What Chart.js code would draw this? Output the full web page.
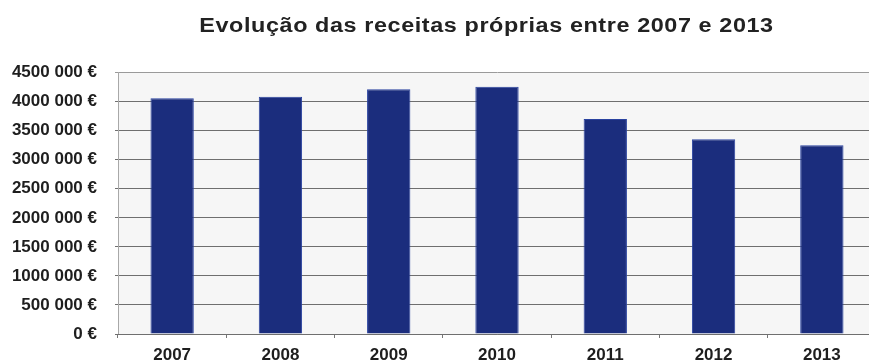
<!DOCTYPE html>
<html lang="pt">
<head>
<meta charset="utf-8">
<title>Receitas próprias 2007-2013</title>
<script src="https://cdn.jsdelivr.net/npm/chart.js@4.4.0/dist/chart.umd.min.js"></script>
<style>
  html, body { margin: 0; padding: 0; background: #fff; overflow: hidden; }
  #wrap { width: 876px; height: 363px; }
</style>
</head>
<body>
<div id="wrap"><canvas id="chart-rec"></canvas></div>
<script>
// receitas próprias por ano (euros)
var anos     = ['2007', '2008', '2009', '2010', '2011', '2012', '2013'];
var receitas = [4058000, 4086000, 4213000, 4258000, 3702000, 3353000, 3250000];
var yMax     = 4500000;
var yPasso   = 500000;
var titulo   = 'Evolução das receitas próprias entre 2007 e 2013';

var azul   = '#1b2d7d';
var texto  = '#1e1e1e';
var grelha = '#6f6f6f';

Chart.defaults.font.family = "'Liberation Sans', Arial, sans-serif";

// fundo cinzento claro da área do gráfico
var fundoArea = {
  id: 'fundoArea',
  beforeDraw: function(chart) {
    var a = chart.chartArea, c = chart.ctx;
    c.save();
    c.fillStyle = '#f6f6f6';
    c.fillRect(a.left, a.top, a.right - a.left, a.bottom - a.top);
    c.restore();
  }
};

// título largo (letra esticada na horizontal)
var tituloLargo = {
  id: 'tituloLargo',
  afterDraw: function(chart) {
    var c = chart.ctx, sx = 1.17;
    c.save();
    c.font = "bold 20px 'Liberation Sans', Arial, sans-serif";
    c.fillStyle = '#222';
    c.textAlign = 'center';
    c.textBaseline = 'alphabetic';
    if ('letterSpacing' in c) c.letterSpacing = '0.5px';
    c.translate(486.5, 31.5);
    c.scale(sx, 1);
    c.fillText(titulo, 0, 0);
    c.restore();
  }
};

function fmtEuro(v) {
  if (v === 0) return '0 €';
  return (v / 1000) + ' 000 €';
}

new Chart(document.getElementById('chart-rec'), {
  type: 'bar',
  data: {
    labels: anos,
    datasets: [{
      data: receitas,
      backgroundColor: azul,
      borderColor: '#2a43a0',
      borderWidth: 1,
      barPercentage: 0.4,
      categoryPercentage: 1
    }]
  },
  options: {
    responsive: true, maintainAspectRatio: false, animation: false,
    layout: { padding: { left: 0, right: 0, top: 72.6, bottom: 0 } },
    plugins: {
      legend: { display: false },
      tooltip: { enabled: false },
      title: { display: false }
    },
    scales: {
      y: {
        min: 0, max: yMax,
        ticks: {
          stepSize: yPasso,
          color: texto,
          font: { size: 17, weight: 'bold' },
          padding: 18,
          callback: function(v) { return fmtEuro(v); }
        },
        grid: {
          color: function(ctx) { return ctx.tick && ctx.tick.value === yMax ? '#9a9a9a' : grelha; },
          tickLength: 3
        },
        border: { color: '#a8a8a8' },
        afterFit: function(s) { s.width = 118; }
      },
      x: {
        ticks: {
          color: texto,
          font: { size: 17, weight: 'bold' },
          padding: 7
        },
        grid: { drawOnChartArea: false, tickLength: 4, color: '#777', offset: true },
        border: { color: grelha },
        afterFit: function(s) { s.height = 29; }
      }
    }
  },
  plugins: [fundoArea, tituloLargo]
});
</script>
</body>
</html>
